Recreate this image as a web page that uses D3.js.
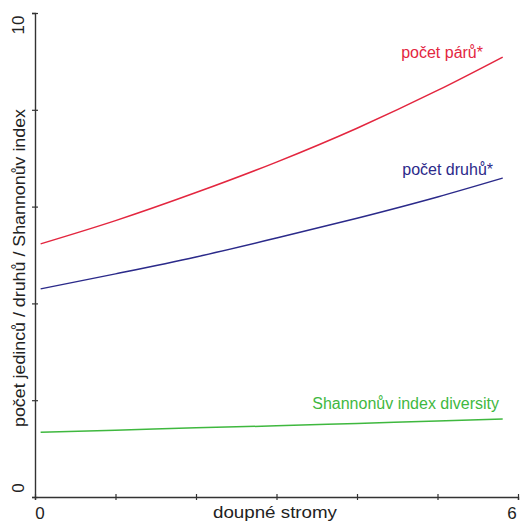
<!DOCTYPE html>
<html>
<head>
<meta charset="utf-8">
<script src="https://cdn.jsdelivr.net/npm/d3@7"></script>
<style>
  body { margin: 0; background: #fff; }
  text { font-family: Arial, "Liberation Sans", sans-serif; }
</style>
</head>
<body>
<div id="app"></div>
<script>
// values
const xVals = [0.07, 1, 2, 3, 4, 5, 5.81];
const pary = [5.23, 5.71, 6.29, 6.92, 7.62, 8.40, 9.09];
const druhy = [4.30, 4.61, 4.96, 5.35, 5.76, 6.20, 6.59];
const shannon = [1.34, 1.38, 1.43, 1.47, 1.52, 1.57, 1.61];
const xTicks = [0, 1, 2, 3, 4, 5, 6];
const yTicks = [0, 2, 4, 6, 8, 10];

const width = 521, height = 523;
const svg = d3.select("#app").append("svg")
  .attr("width", width)
  .attr("height", height);

const x = d3.scaleLinear().domain([0, 6]).range([35, 518]);
const y = d3.scaleLinear().domain([0, 10]).range([497, 13]);

const axisColor = "#333";
const textColor = "#222";

// axes
const xAxis = svg.append("g")
  .attr("transform", `translate(0,${y(0)})`)
  .call(d3.axisBottom(x).tickValues(xTicks).tickSize(3).tickFormat(""));
const yAxis = svg.append("g")
  .attr("transform", `translate(${x(0)},0)`)
  .call(d3.axisLeft(y).tickValues(yTicks).tickSize(3).tickFormat(""));

[xAxis, yAxis].forEach(g => {
  g.select(".domain").attr("stroke", axisColor).attr("stroke-width", 1.4);
  g.selectAll(".tick line").attr("stroke", axisColor).attr("stroke-width", 1.2);
});
// ticks cross the axis line
xAxis.selectAll(".tick line").attr("y1", -3).attr("y2", 3);
yAxis.selectAll(".tick line").attr("x1", -3).attr("x2", 3);

// tick labels (only the end values are labelled)
svg.append("text").attr("x", x(0) + 5).attr("y", 519)
  .attr("text-anchor", "middle").attr("font-size", 17).attr("fill", textColor).text("0");
svg.append("text").attr("x", x(6) - 6).attr("y", 519)
  .attr("text-anchor", "middle").attr("font-size", 17).attr("fill", textColor).text("6");
svg.append("text")
  .attr("transform", `translate(24,${y(0) - 9}) rotate(-90)`)
  .attr("text-anchor", "middle").attr("font-size", 17).attr("fill", textColor).text("0");
svg.append("text")
  .attr("transform", `translate(24,${y(10) + 12}) rotate(-90)`)
  .attr("text-anchor", "middle").attr("font-size", 17).attr("fill", textColor).text("10");

// axis titles
svg.append("text").attr("x", 275).attr("y", 518)
  .attr("text-anchor", "middle").attr("font-size", 16).attr("fill", textColor)
  .attr("textLength", 124).attr("lengthAdjust", "spacingAndGlyphs")
  .text("doupné stromy");
svg.append("text")
  .attr("transform", `translate(25,268) rotate(-90)`)
  .attr("text-anchor", "middle").attr("font-size", 17).attr("fill", textColor)
  .attr("textLength", 318).attr("lengthAdjust", "spacingAndGlyphs")
  .text("počet jedinců / druhů / Shannonův index");

// series lines
const series = [
  { name: "počet párů*", values: pary, color: "#e3263f", lx: 483, ly: 58 },
  { name: "počet druhů*", values: druhy, color: "#2b2a8a", lx: 493, ly: 175 },
  { name: "Shannonův index diversity", values: shannon, color: "#3fb83f", lx: 499, ly: 409 }
];

const line = d3.line()
  .x(d => x(d[0]))
  .y(d => y(d[1]))
  .curve(d3.curveMonotoneX);

series.forEach(s => {
  svg.append("path")
    .datum(xVals.map((v, i) => [v, s.values[i]]))
    .attr("fill", "none")
    .attr("stroke", s.color)
    .attr("stroke-width", 1.5)
    .attr("d", line);
  svg.append("text")
    .attr("x", s.lx).attr("y", s.ly)
    .attr("text-anchor", "end")
    .attr("font-size", 16)
    .attr("fill", s.color)
    .text(s.name);
});
</script>
</body>
</html>
